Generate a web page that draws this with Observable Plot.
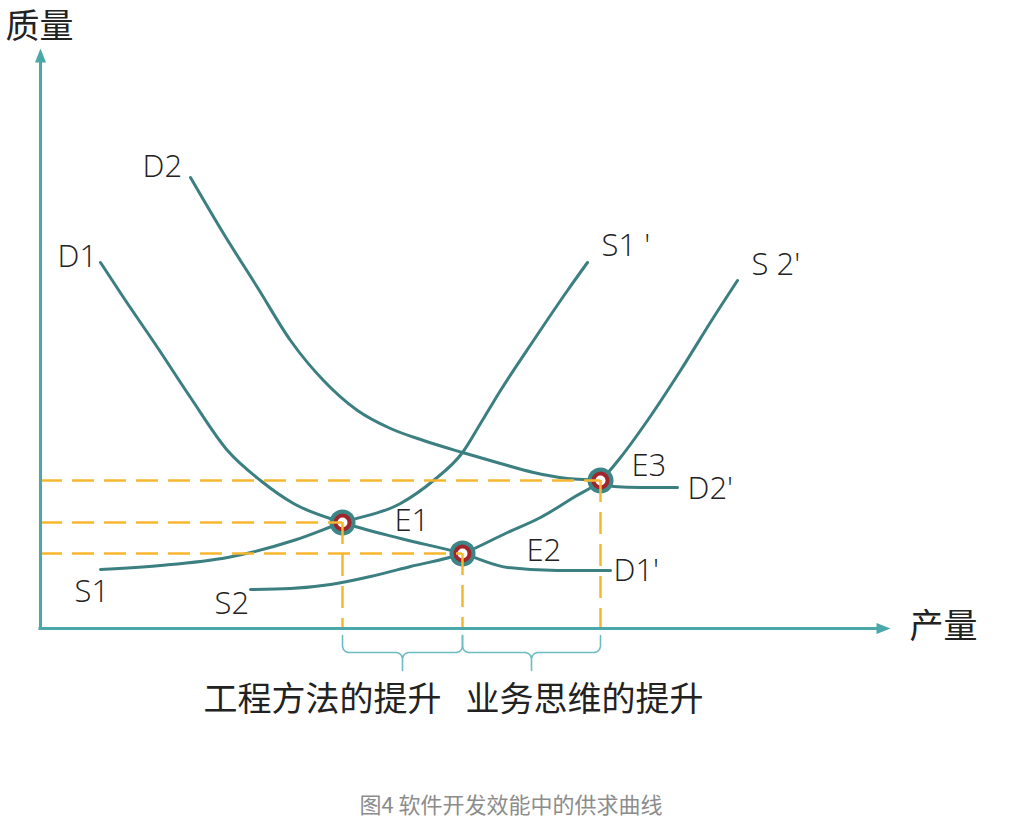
<!DOCTYPE html>
<html>
<head>
<meta charset="utf-8">
<script src="https://cdn.jsdelivr.net/npm/d3@7"></script>
<script src="https://cdn.jsdelivr.net/npm/@observablehq/plot@0.6"></script>
<style>
  html, body { margin: 0; padding: 0; background: #fff; }
  #wrap { position: relative; width: 1022px; height: 819px; }
  #caption { position: absolute; top: 790px; left: 0; width: 1022px; text-align: center;
    font-family: "Noto Sans CJK SC", "Noto Sans", sans-serif; font-size: 22px; line-height: 26px; color: #8c8c8c; }
</style>
</head>
<body>
<div id="wrap"><div id="chart"></div><div id="caption">图4 软件开发效能中的供求曲线</div></div>
<script>
// Demand and supply curves (x = 产量, y = 质量, arbitrary units)
const d1X = [60, 83, 117, 150, 187, 220, 253, 302, 360, 422, 467, 517, 570];
const d1Y = [366, 331, 281, 231, 178, 148, 125, 106, 90, 75, 61, 58, 58];
const d2X = [150, 183, 217, 250, 283, 317, 350, 383, 422, 460, 493, 527, 560, 573, 600, 637];
const d2Y = [451, 395, 341, 288, 248, 218, 200, 188, 176, 165, 156, 150, 148, 142, 141, 141];
const s1X = [60, 120, 187, 253, 302, 360, 393, 422, 440, 460, 493, 527, 547];
const s1Y = [59, 63, 71, 88, 106, 125, 148, 176, 205, 238, 288, 338, 366];
const s2X = [210, 250, 290, 330, 370, 422, 467, 500, 533, 560, 580, 607, 640, 673, 697];
const s2Y = [39, 40, 44, 52, 62, 75, 96, 111, 131, 148, 171, 208, 258, 311, 348];

// Equilibrium points
const eqNames = ["E1", "E2", "E3"];
const eqX = [302, 422, 560];
const eqY = [106, 75, 148];

// Curve labels
const labelText = ["D1", "D2", "S1 '", "S 2'", "E1", "E2", "E3", "D2'", "D1'", "S1", "S2"];
const labelX = [17, 102, 561, 711, 354, 486, 591, 647, 573, 34, 174];
const labelY = [371, 461, 382, 363, 107, 77, 162, 139, 57, 36, 24];

// Axis titles and brace labels
const axisTitles = ["质量", "产量"];
const axisTitleX = [-35, 869];
const axisTitleY = [601, 1];
const braceLabels = ["工程方法的提升", "业务思维的提升"];
const braceLabelX = [282, 544];
const braceLabelY = [-72, -72];
const yAxisTop = 580;
const xAxisRight = 850;

const zip = (xs, ys) => xs.map((x, i) => ({x, y: ys[i]}));
const curves = [
  ...zip(d1X, d1Y).map(d => ({...d, c: "D1"})),
  ...zip(d2X, d2Y).map(d => ({...d, c: "D2"})),
  ...zip(s1X, s1Y).map(d => ({...d, c: "S1"})),
  ...zip(s2X, s2Y).map(d => ({...d, c: "S2"}))
];
const eq = eqNames.map((n, i) => ({n, x: eqX[i], y: eqY[i]}));
const labels = labelText.map((t, i) => ({t, x: labelX[i], y: labelY[i]}));
const titles = axisTitles.map((t, i) => ({t, x: axisTitleX[i], y: axisTitleY[i]}));
const braceText = braceLabels.map((t, i) => ({t, x: braceLabelX[i], y: braceLabelY[i]}));

// Braces under the x axis between successive equilibrium quantities
function brace(xa, xb, id) {
  const xm = (xa + xb) / 2;
  const top = -7, mid = -24, tip = -42;
  const pts = [
    [xa, top], [xa, mid + 6], [xa + 1, mid + 3], [xa + 3, mid + 1], [xa + 6, mid],
    [xm - 6, mid], [xm - 3, mid - 1], [xm - 1, mid - 3], [xm, mid - 6], [xm, tip],
    [xm, mid - 6], [xm + 1, mid - 3], [xm + 3, mid - 1], [xm + 6, mid],
    [xb - 6, mid], [xb - 3, mid + 1], [xb - 1, mid + 3], [xb, mid + 6], [xb, top]
  ];
  return pts.map(([x, y], k) => ({x, y, id, k}));
}
const braces = [...brace(eqX[0], eqX[1], "a"), ...brace(eqX[1], eqX[2], "b")];

const arrowHead = {draw(ctx) { ctx.moveTo(0, 0); ctx.lineTo(-5.5, 14); ctx.lineTo(5.5, 14); ctx.closePath(); }};

const axisColor = "#4aa7aa";
const curveColor = "#3b7f80";
const dashColor = "#f6b630";

const chart = Plot.plot({
  width: 1022,
  height: 775,
  margin: 0,
  x: {domain: [-40, 982], axis: null},
  y: {domain: [-147, 628], axis: null},
  style: {background: "white", overflow: "visible"},
  marks: [
    Plot.line(curves, {x: "x", y: "y", z: "c", stroke: curveColor, strokeWidth: 3, curve: "monotone-x"}),
    Plot.line(braces, {x: "x", y: "y", z: "id", stroke: "#6cbdc1", strokeWidth: 1.6, curve: "linear"}),
    Plot.dot(eq, {x: "x", y: "y", r: 13, fill: "#3d8687", stroke: null}),
    Plot.dot(eq, {x: "x", y: "y", r: 9, fill: "#a1252b", stroke: null}),
    Plot.dot(eq, {x: "x", y: "y", r: 5, fill: "white", stroke: null}),
    Plot.ruleY(eq, {y: "y", x1: 0, x2: "x", stroke: dashColor, strokeWidth: 2.5, strokeDasharray: "22,10"}),
    Plot.ruleX(eq, {x: "x", y1: "y", y2: 0, stroke: dashColor, strokeWidth: 2.5, strokeDasharray: "22,10"}),
    Plot.ruleX([0], {y1: 0, y2: yAxisTop - 8, stroke: axisColor, strokeWidth: 3}),
    Plot.ruleY([0], {x1: -1.5, x2: xAxisRight - 8, stroke: axisColor, strokeWidth: 3}),
    Plot.dot([{x: 0, y: yAxisTop}], {x: "x", y: "y", symbol: arrowHead, fill: axisColor, stroke: null, r: 5}),
    Plot.dot([{x: xAxisRight, y: 0}], {x: "x", y: "y", symbol: arrowHead, fill: axisColor, stroke: null, r: 5, rotate: 90}),
    Plot.text(labels, {x: "x", y: "y", text: "t", textAnchor: "start", fontSize: 31, fill: "#222",
      fontFamily: "'Open Sans', 'Noto Sans', sans-serif", fontWeight: 300}),
    Plot.text(titles, {x: "x", y: "y", text: "t", textAnchor: "start", fontSize: 34, fill: "#222",
      fontFamily: "'Noto Sans CJK SC', sans-serif"}),
    Plot.text(braceText, {x: "x", y: "y", text: "t", textAnchor: "middle", fontSize: 34, fill: "#222",
      fontFamily: "'Noto Sans CJK SC', sans-serif"})
  ]
});
document.getElementById("chart").appendChild(chart);
</script>
</body>
</html>
